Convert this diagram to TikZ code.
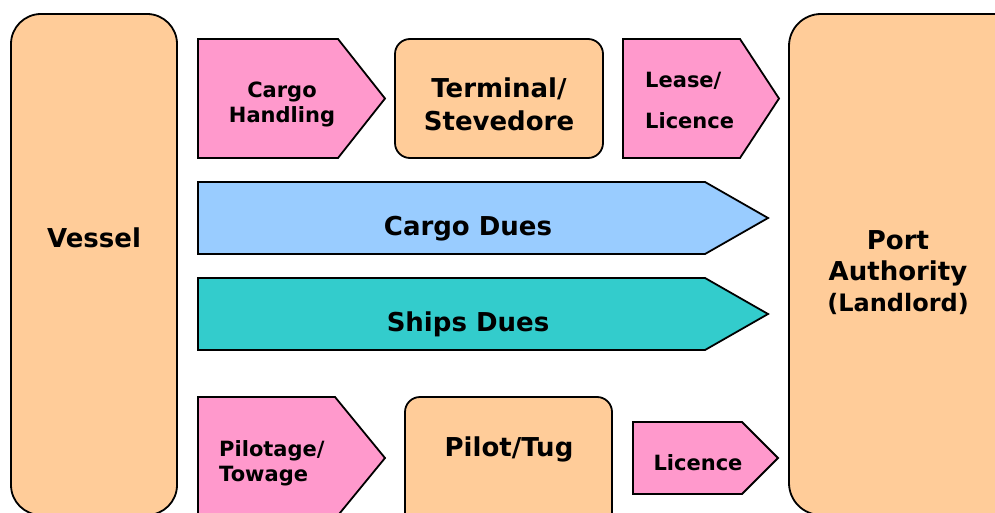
\documentclass[tikz,border=0pt]{standalone}
\usepackage{fontspec}
\setmainfont{DejaVu Sans}
\definecolor{peach}{HTML}{FFCC99}
\definecolor{pinkc}{HTML}{FF99CC}
\definecolor{bluec}{HTML}{99CCFF}
\definecolor{tealc}{HTML}{33CCCC}
\tikzset{
  outl/.style={draw=black, line width=1.8pt, line join=miter},
  peachbox/.style={outl, fill=peach},
  pinkbox/.style={outl, fill=pinkc},
  bigtxt/.style={font=\bfseries\fontsize{26}{31}\selectfont, align=center, inner sep=0pt},
  smalltxt/.style={font=\bfseries\fontsize{21}{25}\selectfont, inner sep=0pt},
}
\begin{document}
\begin{tikzpicture}[x=1pt, y=-1pt]
\useasboundingbox (0,0) rectangle (995,513);
\clip (0,0) rectangle (995,513);
\fill[white] (0,0) rectangle (995,513);
% Vessel
\draw[peachbox, rounded corners=30pt] (11,14) rectangle (177,515);
\node[bigtxt] (vessel) at (94,237.5) {Vessel};
% Port Authority
\draw[peachbox, rounded corners=32pt] (789,14) rectangle (1030,515);
\node[bigtxt] (port) at (898,273) {Port\\Authority\\{\fontsize{24}{31}\selectfont(Landlord)}};
% Cargo Handling
\draw[pinkbox] (198,39) -- (338,39) -- (385,98.5) -- (338,158) -- (198,158) -- cycle;
\node[smalltxt, align=center] (ch) at (282,104.5) {Cargo\\Handling};
% Terminal/Stevedore
\draw[peachbox, rounded corners=15pt] (395,39) rectangle (603,158);
\node[bigtxt, font=\bfseries\fontsize{26}{33}\selectfont] (term) at (499,104.5) {Terminal/\\Stevedore};
% Lease/Licence
\draw[pinkbox] (623,39) -- (740,39) -- (779,98.5) -- (740,158) -- (623,158) -- cycle;
\node[smalltxt, align=left, anchor=west, font=\bfseries\fontsize{21}{41}\selectfont] (lease) at (645,100.5) {Lease/\\Licence};
% Cargo Dues
\draw[outl, fill=bluec] (198,182) -- (705,182) -- (768,218) -- (705,254) -- (198,254) -- cycle;
\node[bigtxt] (cdues) at (468,229) {Cargo Dues};
% Ships Dues
\draw[outl, fill=tealc] (198,278) -- (705,278) -- (768,314) -- (705,350) -- (198,350) -- cycle;
\node[bigtxt] (sdues) at (468,324) {Ships Dues};
% Pilotage/Towage
\draw[pinkbox] (198,397) -- (335,397) -- (385,458) -- (335,519) -- (198,519) -- cycle;
\node[smalltxt, align=left, anchor=west] (pt) at (219,463) {Pilotage/\\Towage};
% Pilot/Tug
\draw[peachbox, rounded corners=15pt] (405,397) rectangle (612,535);
\node[bigtxt] (tug) at (509,449) {Pilot/Tug};
% Licence
\draw[pinkbox] (633,422) -- (742,422) -- (778,458) -- (742,494) -- (633,494) -- cycle;
\node[smalltxt] (lic) at (698,463) {Licence};
\end{tikzpicture}
\end{document}
